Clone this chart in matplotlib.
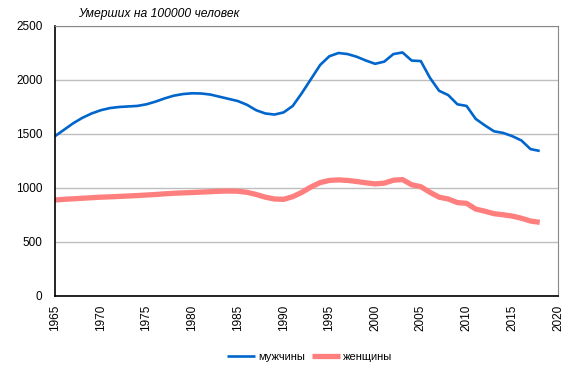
import matplotlib
matplotlib.use("Agg")
import matplotlib.pyplot as plt

plt.rcParams['font.family'] = ['Liberation Sans', 'DejaVu Sans']

years = list(range(1965, 2019))
men = [1480, 1540, 1600, 1650, 1690, 1720, 1740, 1750, 1755, 1760,
       1775, 1800, 1830, 1855, 1870, 1877, 1875, 1865, 1845, 1825,
       1805, 1770, 1720, 1690, 1680, 1700, 1760, 1880, 2010, 2140,
       2220, 2250, 2240, 2215, 2180, 2150, 2170, 2240, 2255, 2180,
       2175, 2020, 1900, 1860, 1775, 1760, 1640, 1580, 1525, 1510,
       1480, 1440, 1360, 1343]
women = [889, 895, 900, 905, 910, 915, 918, 922, 926, 930,
         935, 940, 946, 951, 955, 958, 962, 966, 970, 972,
         970, 960, 940, 915, 898, 895, 920, 960, 1010, 1050,
         1070, 1075, 1070, 1060, 1048, 1038, 1045, 1072, 1078, 1030,
         1012, 960, 915, 898, 865, 858, 805, 785, 762, 752,
         740, 720, 694, 682]
labels = ["мужчины", "женщины"]
title = "Умерших на 100000 человек"
xticks = list(range(1965, 2021, 5))
yticks = list(range(0, 2501, 500))

fig = plt.figure(figsize=(5.83, 3.74), dpi=100)
ax = fig.add_axes([55/583, 1-296/374, (558-55)/583, (296-26)/374])

ax.plot(years, men, color='#0066CC', lw=1.9, label=labels[0], solid_capstyle='butt')
ax.plot(years, women, color='#FF7F7F', lw=3.8, label=labels[1], solid_capstyle='butt')

ax.set_xlim(1965, 2020)
ax.set_ylim(0, 2500)
ax.set_xticks(xticks)
ax.set_yticks(yticks)
ax.tick_params(axis='x', labelrotation=90, length=0, pad=6, labelsize=8.5)
ax.tick_params(axis='y', length=0, pad=9, labelsize=8.5)
ax.grid(axis='y', color='#BEBEBE', lw=1)
ax.set_axisbelow(True)
for s in ['top', 'right']:
    ax.spines[s].set_color('#888888')
for s in ['left', 'bottom']:
    ax.spines[s].set_color('black')
    ax.spines[s].set_linewidth(1.2)

fig.text(78/583, 1-14/374, title, fontsize=8.7, style='italic', va='center', ha='left')

fig.legend(loc='center', bbox_to_anchor=(310/583, 1-357/374), ncol=2, frameon=False,
           fontsize=8, handlelength=2.5, columnspacing=0.6, handletextpad=0.3)

fig.savefig('out.png', dpi=100)
